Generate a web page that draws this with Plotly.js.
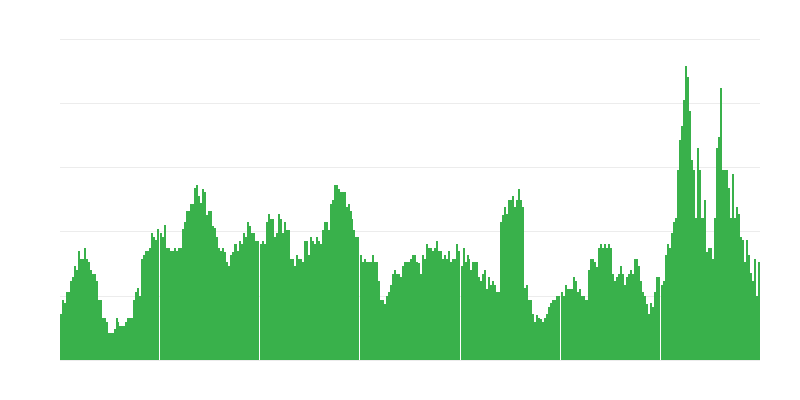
<!DOCTYPE html>
<html>
<head>
<meta charset="utf-8">
<script src="https://cdn.plot.ly/plotly-3.0.1.min.js"></script>
<style>html,body{margin:0;padding:0;background:#fff;}#chart{width:800px;height:400px;}</style>
</head>
<body>
<div id="chart"></div>
<script>
// Seven consecutive periods, 50 bars each
const groupSize = 50;
const group1 = [7.2,9.4,8.9,10.6,10.6,12.3,13.0,14.7,14.1,17.0,
  15.8,15.8,17.5,15.8,15.3,14.1,13.4,13.4,12.3,9.4,
  9.4,6.6,6.6,5.9,4.2,4.2,4.2,4.8,6.6,5.9,
  5.3,5.3,5.3,5.9,6.6,6.6,6.6,9.4,10.6,11.3,
  10.0,15.8,16.4,17.0,17.0,17.5,19.8,19.2,18.8,20.5];
const group2 = [19.8,19.2,21.1,17.5,17.5,17.0,17.0,17.5,17.0,17.5,
  17.5,20.5,21.6,23.3,23.3,24.4,24.4,26.9,27.3,25.6,
  24.5,26.7,26.3,22.7,23.3,23.3,20.9,20.6,19.2,17.5,
  17.0,17.5,16.9,15.3,14.7,16.4,16.9,18.1,18.1,17.0,
  18.6,18.1,19.8,19.2,21.6,20.9,19.8,19.8,18.6,18.6];
const group3 = [18.1,18.6,18.1,21.6,22.8,22.0,22.0,19.2,19.8,22.8,
  22.0,19.8,21.6,20.3,20.3,15.8,15.8,14.7,16.4,15.8,
  15.8,15.3,18.6,18.6,16.4,19.2,18.6,18.1,19.2,18.6,
  18.1,20.3,21.6,21.6,20.3,24.4,25.0,27.3,27.3,26.7,
  26.3,26.3,26.3,23.9,24.4,23.3,22.0,20.3,19.2,19.2];
const group4 = [16.4,15.3,15.8,15.3,15.3,15.3,16.4,15.3,15.3,12.3,
  9.4,9.4,8.8,10.0,10.6,11.7,13.4,14.1,13.4,13.4,
  13.0,14.7,15.3,15.3,15.3,15.8,16.4,16.4,15.3,15.2,
  13.4,16.4,15.8,18.1,17.5,17.5,17.0,17.5,18.6,17.0,
  17.0,15.8,16.4,15.8,17.0,15.3,15.8,15.8,18.1,17.0];
const group5 = [14.7,17.5,15.3,16.4,15.8,14.1,15.3,15.3,15.3,13.0,
  12.3,13.4,14.1,11.1,13.0,11.7,12.3,11.7,10.6,10.6,
  21.6,22.7,23.9,22.8,25.0,25.0,25.6,23.9,25.0,26.7,
  25.0,23.9,11.3,11.7,9.4,9.4,7.2,5.9,7.0,6.6,
  6.4,5.9,6.6,7.2,8.3,8.9,9.4,9.4,10.0,10.0];
const group6 = [10.6,10.0,11.7,11.1,11.1,11.1,13.0,12.3,10.6,11.1,
  10.0,10.0,9.4,9.4,14.1,15.8,15.8,15.3,14.5,17.5,
  18.1,17.5,18.1,17.5,18.1,17.5,13.4,12.3,13.0,13.4,
  14.7,13.4,11.7,13.0,13.4,14.1,13.4,15.8,15.8,14.7,
  12.3,10.6,10.0,8.8,7.2,8.9,8.3,10.6,13.0,13.0];
const group7 = [11.7,12.3,16.4,18.1,17.5,19.8,21.6,22.2,29.7,34.4,
  36.6,40.6,45.9,44.2,38.9,31.3,29.7,22.2,33.1,29.7,
  22.2,22.2,25.0,16.9,17.5,17.5,15.8,22.2,33.1,34.8,
  42.5,29.7,29.7,29.7,26.9,22.2,29.1,22.2,23.9,22.8,
  19.2,18.8,15.3,18.8,16.4,13.6,12.3,15.8,10.0,15.3];

const groups = [group1, group2, group3, group4, group5, group6, group7];
const groupGap = 0.5; // thin white separation between periods

const xs = [], ys = [];
groups.forEach((g, gi) => {
  g.forEach((v, j) => {
    xs.push(gi * (groupSize + groupGap) + j);
    ys.push(v);
  });
});
const xMax = (groups.length - 1) * (groupSize + groupGap) + groupSize - 1;

const trace = {
  type: 'bar',
  x: xs,
  y: ys,
  marker: {color: '#39b14b', line: {width: 0}},
  hoverinfo: 'y'
};

const layout = {
  width: 800,
  height: 400,
  margin: {l: 60, r: 40, t: 38, b: 40},
  paper_bgcolor: '#ffffff',
  plot_bgcolor: '#ffffff',
  bargap: 0,
  showlegend: false,
  xaxis: {
    range: [-0.5, xMax + 0.5],
    showgrid: false,
    zeroline: false,
    showticklabels: false,
    ticks: '',
    showline: true,
    linecolor: '#ececec',
    linewidth: 1
  },
  yaxis: {
    range: [0, 50.31],
    dtick: 10,
    tick0: 0,
    showgrid: true,
    gridcolor: '#ececec',
    gridwidth: 1,
    zeroline: false,
    showticklabels: false,
    ticks: '',
    showline: false
  }
};

Plotly.newPlot('chart', [trace], layout, {displayModeBar: false, staticPlot: true});
</script>
</body>
</html>
